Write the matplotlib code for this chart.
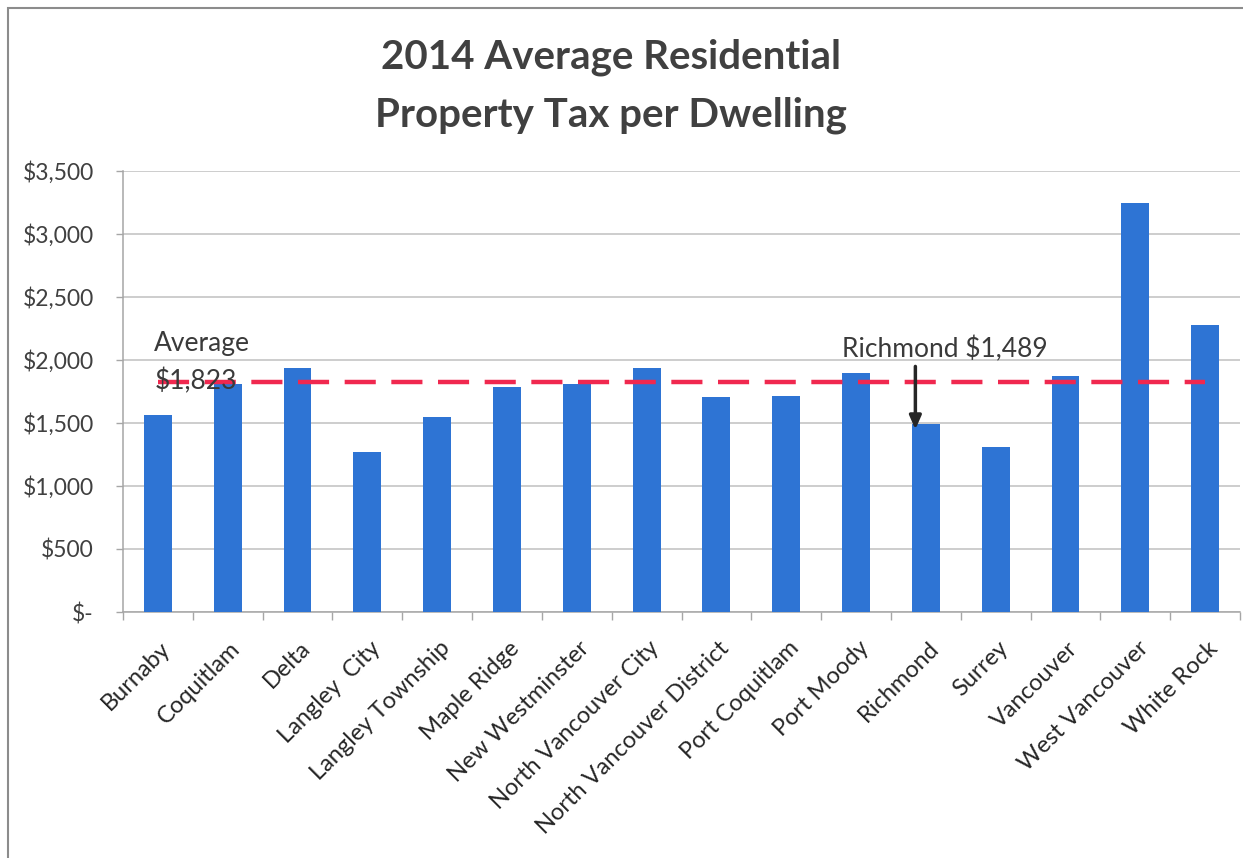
import matplotlib
matplotlib.use("Agg")
import matplotlib.pyplot as plt
from matplotlib.patches import Rectangle
from matplotlib.ticker import FixedLocator, FuncFormatter
from matplotlib.transforms import ScaledTranslation

plt.rcParams['font.family'] = ['Lato', 'DejaVu Sans']

municipalities = [
    "Burnaby", "Coquitlam", "Delta", "Langley  City", "Langley Township",
    "Maple Ridge", "New Westminster", "North Vancouver City",
    "North Vancouver District", "Port Coquitlam", "Port Moody", "Richmond",
    "Surrey", "Vancouver", "West Vancouver", "White Rock",
]
avg_tax = [1565, 1810, 1940, 1270, 1548, 1786, 1810, 1937,
           1706, 1714, 1899, 1489, 1312, 1875, 3243, 2278]
regional_average = 1823
highlight = "Richmond"
y_ticks = [0, 500, 1000, 1500, 2000, 2500, 3000, 3500]

W, H = 1243, 858
fig = plt.figure(figsize=(W / 100, H / 100), dpi=100)
fig.patch.set_facecolor("white")

# chart-area frame
fig.patches.append(Rectangle((8 / W, -0.05), 1.1, 1 - 8 / H + 0.05,
                             transform=fig.transFigure, fill=False,
                             edgecolor="#8c8c8c", linewidth=1.5))

ax = fig.add_axes([123 / W, 1 - 612 / H, (1240 - 123) / W, (612 - 171) / H])

x = list(range(len(municipalities)))
ax.bar(x, avg_tax, width=0.4, color="#2e74d4", zorder=3)

ax.set_xlim(-0.5, len(municipalities) - 0.5)
ax.set_ylim(0, 3500)

ax.yaxis.set_major_locator(FixedLocator(y_ticks))
ax.yaxis.set_major_formatter(FuncFormatter(
    lambda v, p: "$-" if v == 0 else "${:,.0f}".format(v)))
ax.grid(axis="y", color="#c0c0c0", linewidth=1.1, zorder=0)
ax.tick_params(axis="y", length=5, width=1, color="#a6a6a6", pad=16,
               labelsize=16.5, labelcolor="#404040")

ax.set_xticks(x)
ax.set_xticklabels(municipalities, rotation=45, ha="right", va="top",
                   rotation_mode="anchor", fontsize=17, color="#262626")
ax.tick_params(axis="x", which="major", length=0, pad=9)
shift = ScaledTranslation(2 / 100, -13 / 100, fig.dpi_scale_trans)
for lbl in ax.get_xticklabels():
    lbl.set_transform(lbl.get_transform() + shift)
ax.set_xticks([i - 0.5 for i in range(len(municipalities) + 1)], minor=True)
ax.tick_params(axis="x", which="minor", length=6, width=1, color="#a6a6a6")

for side in ("top", "right"):
    ax.spines[side].set_visible(False)
for side in ("left", "bottom"):
    ax.spines[side].set_color("#a6a6a6")
    ax.spines[side].set_linewidth(1.1)

# regional average line
ax.plot([0, len(municipalities) - 1], [regional_average] * 2,
        color="#f0284f", linewidth=3.2, linestyle=(0, (7, 3.5)), zorder=4)
ax.text(-0.05, regional_average + 310, "Average", fontsize=19,
        color="#3a3a3a", ha="left", va="center", zorder=5)
ax.text(-0.05, regional_average + 5, "${:,.0f}".format(regional_average),
        fontsize=19, color="#3a3a3a", ha="left", va="center", zorder=5)

# highlighted municipality callout
hi = municipalities.index(highlight)
hv = avg_tax[hi]
ax.annotate("", xy=(hi - 0.15, hv - 40), xytext=(hi - 0.15, hv + 460),
            arrowprops=dict(arrowstyle="-|>,head_length=0.8,head_width=0.35",
                            color="#262626", lw=2.5, shrinkA=0, shrinkB=0),
            zorder=6)
ax.text(hi - 1.2, hv + 600, "{} ${:,.0f}".format(highlight, hv),
        fontsize=19, color="#3a3a3a", ha="left", va="center", zorder=5)

fig.text(611 / W, 1 - 57 / H, "2014 Average Residential", fontsize=29,
         fontweight="bold", color="#404040", ha="center", va="center")
fig.text(611 / W, 1 - 115 / H, "Property Tax per Dwelling", fontsize=29,
         fontweight="bold", color="#404040", ha="center", va="center")

fig.savefig("out.png", dpi=100)
